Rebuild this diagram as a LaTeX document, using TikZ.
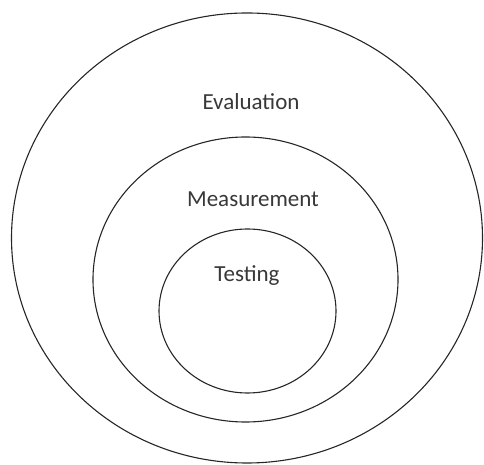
\documentclass[tikz,border=0pt]{standalone}
\usepackage{fontspec}
\setmainfont{Carlito}
\usetikzlibrary{shapes.geometric}
\begin{document}
\begin{tikzpicture}[x=1pt,y=1pt,
  ring/.style={draw=black!85, line width=1.1pt, ellipse, inner sep=0pt, outer sep=0pt},
  lbl/.style={anchor=base, text=black!78, font=\fontsize{23}{27}\selectfont, inner sep=0pt}]
\useasboundingbox (0,0) rectangle (484,465);
\node[ring, minimum width=471pt, minimum height=450pt] (outer) at (247,227) {};
\node[ring, minimum width=305pt, minimum height=285pt] (middle) at (245.5,185.5) {};
\node[ring, minimum width=177pt, minimum height=164pt] (inner) at (247.5,154) {};
\node[lbl] (eval) at (251,355) {Evaluation};
\node[lbl] (meas) at (253,258) {Measurement};
\node[lbl] (test) at (247,183) {Testing};
\end{tikzpicture}
\end{document}
